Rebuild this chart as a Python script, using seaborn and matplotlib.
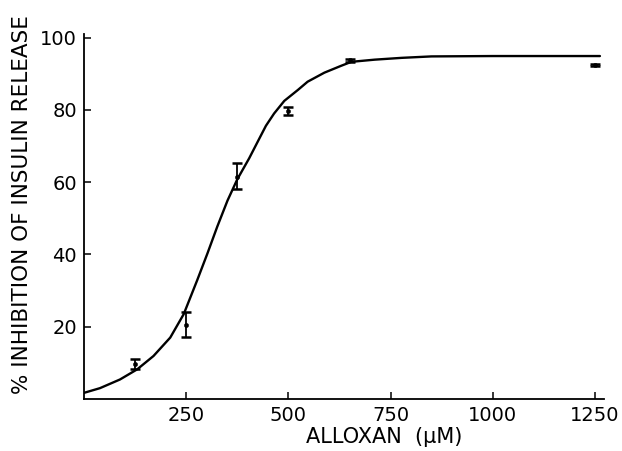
import matplotlib
matplotlib.use('Agg')
import matplotlib.pyplot as plt
import numpy as np
import pandas as pd
import seaborn as sns

# measured points (alloxan uM vs % inhibition) with asymmetric SEM
conc = [125, 250, 375, 500, 650, 1250]
inhibition = [9.6, 20.5, 61.5, 79.7, 93.7, 92.4]
err_low = [1.4, 3.3, 3.5, 1.1, 0.4, 0.3]
err_high = [1.6, 3.6, 3.7, 1.2, 0.4, 0.3]

# fitted curve
fit_conc = [0, 39, 88, 130, 170, 211, 244, 277, 302, 326, 351, 375,
            404, 424, 445, 465, 490, 523, 547, 588, 629, 654, 711, 777,
            850, 1000, 1150, 1262]
fit_inhib = [1.7, 3.0, 5.4, 8.2, 11.9, 17.0, 23.5, 32.9, 40.3, 47.7, 54.9,
             60.8, 66.6, 71.0, 75.6, 79.0, 82.5, 85.5, 87.8, 90.3, 92.2,
             93.3, 93.9, 94.4, 94.8, 94.9, 94.9, 94.9]

xticks = [250, 500, 750, 1000, 1250]
yticks = [20, 40, 60, 80, 100]

df_pts = pd.DataFrame({'conc': conc, 'inhibition': inhibition})
df_fit = pd.DataFrame({'conc': fit_conc, 'inhibition': fit_inhib})

sns.set_style('ticks')
plt.rcParams['font.family'] = ['DejaVu Sans']
plt.rcParams['text.color'] = 'black'
plt.rcParams['axes.labelcolor'] = 'black'

fig = plt.figure(figsize=(6.22, 4.51), dpi=100)
ax = fig.add_axes([84 / 622, 1 - 399 / 451, 520 / 622, 365 / 451])

sns.lineplot(data=df_fit, x='conc', y='inhibition', ax=ax, color='black',
             linewidth=1.7, sort=False)
ax.errorbar(conc, inhibition, yerr=[err_low, err_high], fmt='none',
            ecolor='black', elinewidth=1.3, capsize=3.5, capthick=1.8)
sns.scatterplot(data=df_pts, x='conc', y='inhibition', ax=ax, color='black',
                s=10, edgecolor='black', zorder=3)

ax.set_xlim(0, 1272)
ax.set_ylim(0, 101)
ax.set_xticks(xticks)
ax.set_xticklabels([str(t) for t in xticks])
ax.set_yticks(yticks)
ax.set_yticklabels([str(t) for t in yticks])
ax.tick_params(direction='in', length=5, width=1.1, labelsize=14,
               colors='black', pad=5)
ax.tick_params(axis='x', pad=5)

for side in ['top', 'right']:
    ax.spines[side].set_visible(False)
for side in ['left', 'bottom']:
    ax.spines[side].set_linewidth(1.3)
    ax.spines[side].set_color('black')

ax.set_xlabel('ALLOXAN  (\u03bcM)', fontsize=15, color='black')
ax.set_ylabel('% INHIBITION OF INSULIN RELEASE', fontsize=15.5, color='black')
ax.xaxis.set_label_coords((384 - 84) / 520, (399 - 427) / 365)
ax.yaxis.set_label_coords((32 - 84) / 520, (399 - 205) / 365)

fig.savefig('out.png', dpi=100)
